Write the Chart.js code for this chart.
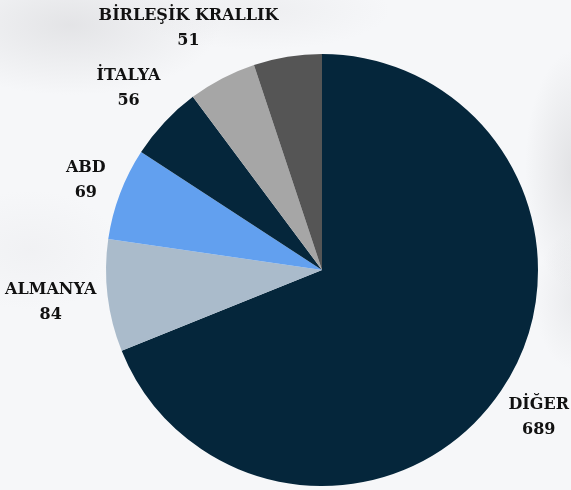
<!DOCTYPE html>
<html>
<head>
<meta charset="utf-8">
<script src="https://cdn.jsdelivr.net/npm/chart.js@4"></script>
<style>
  html, body { margin: 0; padding: 0; }
  body {
    width: 571px; height: 490px; overflow: hidden;
    background:
      radial-gradient(ellipse 150px 70px at 70px 25px, rgba(205,205,208,0.45), rgba(205,205,208,0) 100%),
      radial-gradient(ellipse 50px 120px at 575px 170px, rgba(200,200,203,0.45), rgba(200,200,203,0) 100%),
      radial-gradient(ellipse 40px 70px at 575px 300px, rgba(210,210,213,0.35), rgba(210,210,213,0) 100%),
      radial-gradient(ellipse 130px 40px at 260px 10px, rgba(218,218,221,0.3), rgba(218,218,221,0) 100%),
      radial-gradient(ellipse 90px 60px at 30px 250px, rgba(228,228,231,0.3), rgba(228,228,231,0) 100%),
      #f6f7f9;
  }
  #wrap { position: relative; width: 571px; height: 490px; }
</style>
</head>
<body>
<div id="wrap"><canvas id="chart" width="571" height="490"></canvas></div>
<script>
// ulkelere gore dagilim (son dilimin etiketi resimde yok)
const categories = ['DİĞER', 'ALMANYA', 'ABD', 'İTALYA', 'BİRLEŞİK KRALLIK', ''];
const values = [689, 84, 69, 56, 51, 51];
const sliceColors = ['#05263b', '#aabbcb', '#62a0ef', '#05263b', '#a6a6a6', '#555555'];

// etiketleri dilimin disina yaz
const outsideLabels = {
    id: 'outsideLabels',
    afterDatasetsDraw(chart) {
        const ctx = chart.ctx;
        const meta = chart.getDatasetMeta(0);
        const lineH = 25;
        const offset = 9;
        ctx.save();
        ctx.font = 'bold 16px "DejaVu Serif", serif';
        ctx.fillStyle = '#111111';
        ctx.textAlign = 'center';
        ctx.textBaseline = 'middle';
        meta.data.forEach((arc, i) => {
            if (!categories[i]) return;
            const p = arc.getProps(['x', 'y', 'startAngle', 'endAngle', 'outerRadius'], true);
            const mid = (p.startAngle + p.endAngle) / 2;
            const dx = Math.cos(mid), dy = Math.sin(mid);
            const lines = [categories[i], String(values[i])];
            const w = Math.max(...lines.map(t => ctx.measureText(t).width));
            const h = lines.length * lineH;
            const half = Math.abs(dx) * w / 2 + Math.abs(dy) * h / 2;
            const d = p.outerRadius + offset + half;
            let cx = p.x + dx * d;
            let cy = p.y + dy * d;
            // kenardan tasmasin
            cy = Math.max(cy, h / 2 + 3);
            cx = Math.min(Math.max(cx, w / 2 + 2), chart.width - w / 2 - 2);
            lines.forEach((t, k) => {
                ctx.fillText(t, cx, cy - h / 2 + lineH * (k + 0.5));
            });
        });
        ctx.restore();
    }
};

new Chart(document.getElementById('chart').getContext('2d'), {
    type: 'pie',
    data: {
        labels: categories,
        datasets: [{
            data: values,
            backgroundColor: sliceColors,
            borderWidth: 0
        }]
    },
    options: {
        responsive: false,
        animation: false,
        layout: { padding: { left: 106, right: 33, top: 54, bottom: 4 } },
        plugins: {
            legend: { display: false },
            tooltip: { enabled: false }
        }
    },
    plugins: [outsideLabels]
});
</script>
</body>
</html>
